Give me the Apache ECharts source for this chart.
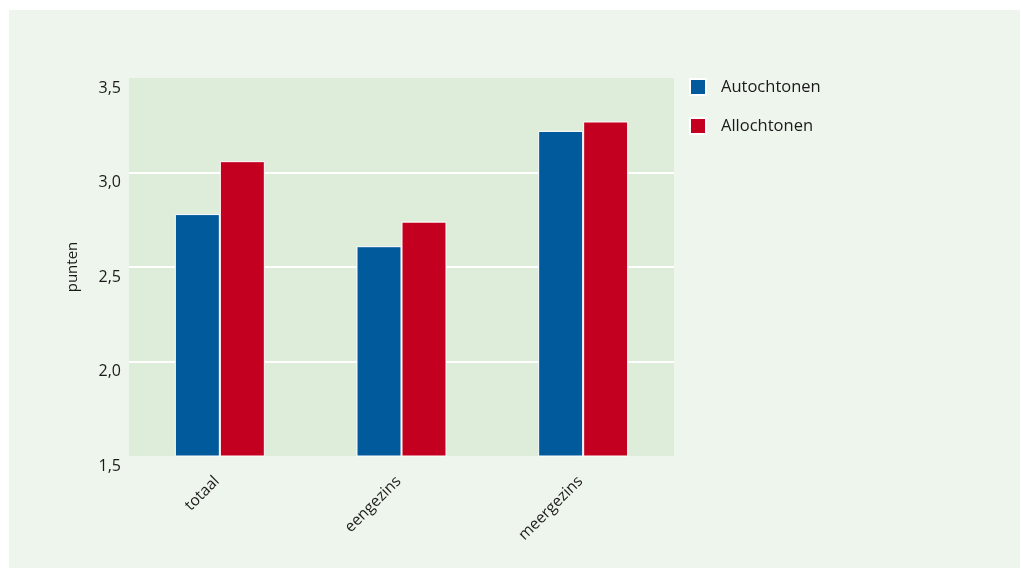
<!DOCTYPE html>
<html>
<head>
<meta charset="utf-8">
<script src="https://cdn.jsdelivr.net/npm/echarts@6/dist/echarts.min.js"></script>
<style>
  html, body { margin: 0; padding: 0; background: #ffffff; }
  #panel { position: absolute; left: 9px; top: 10px; width: 1011px; height: 558px; background: #eef5ec; }
  #chart { position: absolute; left: 0; top: 0; width: 1021px; height: 570px; }
</style>
</head>
<body>
<div id="panel"></div>
<div id="chart"></div>
<script>
// Woningtype categories and average scores per group
const categories = ['totaal', 'eengezins', 'meergezins'];
const autochtonen = [2.78, 2.61, 3.22];
const allochtonen = [3.06, 2.74, 3.27];
const seriesNames = ['Autochtonen', 'Allochtonen'];

const FONT = 'Open Sans';
const TEXT = '#1a1a1a';

const chart = echarts.init(document.getElementById('chart'), null, { renderer: 'canvas' });

chart.setOption({
  backgroundColor: 'transparent',
  textStyle: { fontFamily: FONT, color: TEXT },
  legend: {
    orient: 'vertical',
    left: 689,
    top: 78,
    padding: 0,
    itemWidth: 16,
    itemHeight: 16,
    itemGap: 21,
    icon: 'rect',
    textStyle: { fontFamily: FONT, fontSize: 16.5, color: TEXT, padding: [0, 0, 0, 10] },
    data: seriesNames
  },
  grid: {
    left: 129,
    top: 78,
    right: 347,
    bottom: 114,
    show: true,
    backgroundColor: '#deedd9',
    borderWidth: 0
  },
  xAxis: {
    type: 'category',
    data: categories,
    axisLine: { show: false },
    axisTick: { show: false },
    axisLabel: {
      rotate: 45,
      margin: 20,
      fontFamily: FONT,
      fontSize: 15.5,
      color: TEXT,
      padding: [0, 4, 0, 0]
    }
  },
  yAxis: {
    type: 'value',
    min: 1.5,
    max: 3.5,
    interval: 0.5,
    name: 'punten',
    nameLocation: 'middle',
    nameGap: 49,
    nameRotate: 90,
    nameTextStyle: { fontFamily: FONT, fontSize: 15, color: TEXT },
    axisLine: { show: false },
    axisTick: { show: false },
    splitLine: {
      showMinLine: false,
      showMaxLine: false,
      lineStyle: { color: '#ffffff', width: 2 }
    },
    axisLabel: {
      margin: 8,
      fontFamily: FONT,
      fontSize: 16,
      color: TEXT,
      verticalAlign: 'top',
      padding: [2, 0, 0, 0],
      formatter: v => v.toFixed(1).replace('.', ',')
    }
  },
  series: [
    {
      name: seriesNames[0],
      type: 'bar',
      data: autochtonen,
      barWidth: 45,
      barGap: '0%',
      itemStyle: { color: '#005a9b', borderColor: '#ffffff', borderWidth: 1 }
    },
    {
      name: seriesNames[1],
      type: 'bar',
      data: allochtonen,
      barWidth: 45,
      barGap: '0%',
      itemStyle: { color: '#c40020', borderColor: '#ffffff', borderWidth: 1 }
    }
  ]
});
</script>
</body>
</html>
